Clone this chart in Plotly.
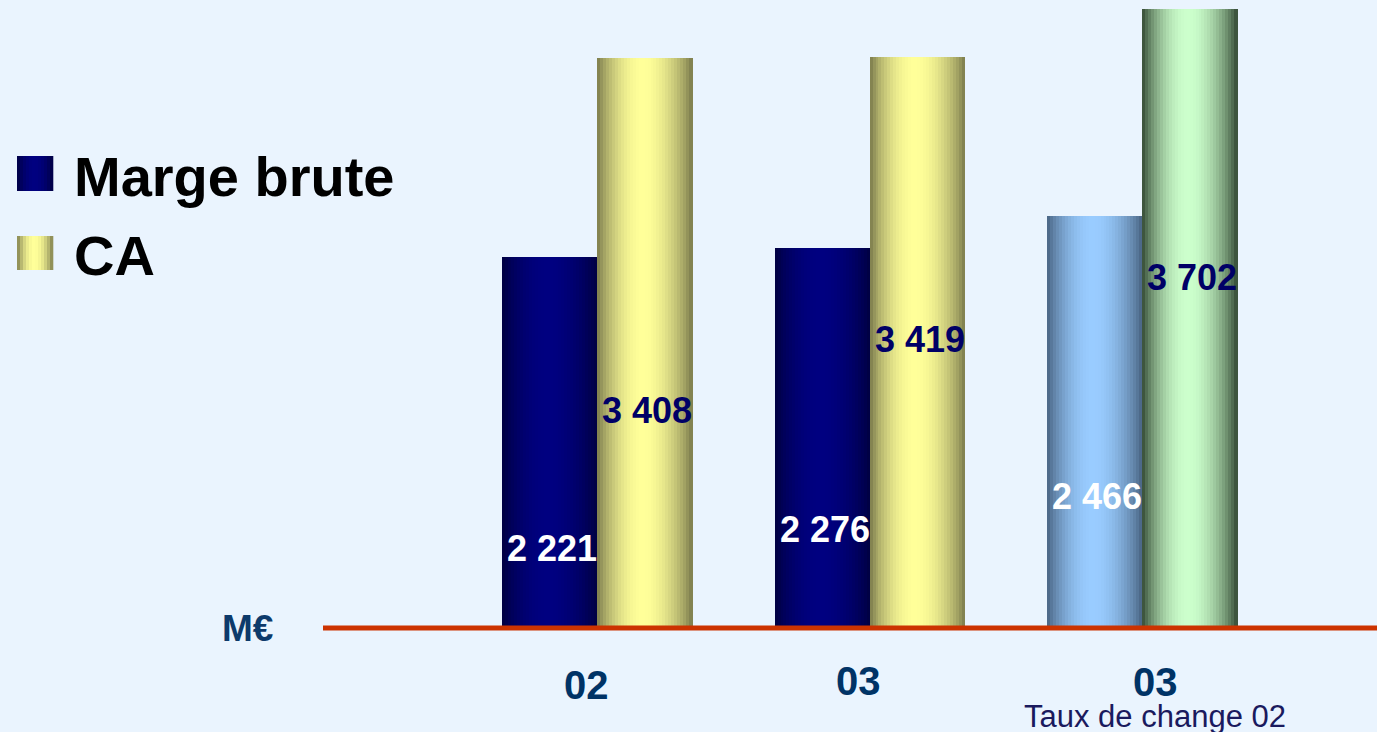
import plotly.graph_objects as go
import math

# ---------------- data ----------------
categories = ["02", "03", "03"]
category_notes = ["", "", "Taux de change 02"]
series_names = ["Marge brute", "CA"]
marge_brute = [2221, 2276, 2466]
ca = [3408, 3419, 3702]
unit_label = "M€"

# ---------------- styling ----------------
BG = "#EAF4FE"
# (edge colour, centre colour) per bar
marge_colors = [("#00003F", "#000080"), ("#00003F", "#000080"), ("#46607E", "#99CCFF")]
ca_colors = [("#77774A", "#FFFF99"), ("#77774A", "#FFFF99"), ("#2F4530", "#CCFFCC")]
marge_label_color = "#FFFFFF"
ca_label_color = "#000066"
# label positions (value units, where the text sits inside each bar)
marge_label_y = [479, 592, 790]
ca_label_y = [1299, 1729, 2100]

N = 32          # slices per bar to imitate cylindrical shading
BW = 0.3486     # bar width in axis units
PEAK = 0.48


def hex2rgb(h):
    h = h.lstrip("#")
    return tuple(int(h[i:i + 2], 16) for i in (0, 2, 4))


def shade(edge, centre, t, peak=PEAK):
    if t < peak:
        f = math.sin(math.pi / 2 * t / peak)
    else:
        f = math.sin(math.pi / 2 * (1 - t) / (1 - peak))
    f = max(0.0, min(1.0, f)) ** 0.8
    e, c = hex2rgb(edge), hex2rgb(centre)
    r = [round(e[k] + (c[k] - e[k]) * f) for k in range(3)]
    return "rgb({},{},{})".format(*r)


xpos = list(range(len(categories)))
fig = go.Figure()
sw = BW / N


def add_series(values, colors, start):
    for i in range(N):
        t = (i + 0.5) / N
        fig.add_trace(go.Bar(
            x=xpos, y=values,
            width=sw * 1.15, offset=start + i * sw,
            marker=dict(color=[shade(e, c, t) for e, c in colors], line=dict(width=0)),
            showlegend=False, hoverinfo="skip",
        ))


add_series(marge_brute, marge_colors, -BW)
add_series(ca, ca_colors, 0.0)

annotations = []


def fmt(v):
    return f"{v:,}".replace(",", " ")


for x, v, ly in zip(xpos, marge_brute, marge_label_y):
    annotations.append(dict(x=x - BW / 2 + 0.01, y=ly, xref="x", yref="y", text=f"<b>{fmt(v)}</b>", showarrow=False,
                            font=dict(family="Liberation Sans", size=36, color=marge_label_color),
                            xanchor="center", yanchor="middle"))
for x, v, ly in zip(xpos, ca, ca_label_y):
    annotations.append(dict(x=x + BW / 2 + 0.01, y=ly, xref="x", yref="y", text=f"<b>{fmt(v)}</b>", showarrow=False,
                            font=dict(family="Liberation Sans", size=36, color=ca_label_color),
                            xanchor="center", yanchor="middle"))

# category labels
cat_offsets_x = [-0.037, -0.039, 0.048]
cat_y = [-341, -314, -322]
for x, c, dx, cy, note in zip(xpos, categories, cat_offsets_x, cat_y, category_notes):
    annotations.append(dict(x=x + dx, y=cy, xref="x", yref="y", text=f"<b>{c}</b>", showarrow=False,
                            font=dict(family="Liberation Sans", size=40, color="#003366"),
                            xanchor="center", yanchor="middle", borderpad=0))
    if note:
        annotations.append(dict(x=x + dx, y=-528, xref="x", yref="y", text=note, showarrow=False,
                                font=dict(family="Liberation Sans", size=31, color="#1A1A5E"),
                                xanchor="center", yanchor="middle", borderpad=0))

annotations.append(dict(x=247 / 1377, y=0, xref="paper", yref="y", text=f"<b>{unit_label}</b>", showarrow=False,
                        font=dict(family="Liberation Sans", size=37, color="#0D3A6B"),
                        xanchor="center", yanchor="middle"))

# legend (manual, large)
shapes = []
leg_rows = [(156, 191, marge_colors[0]), (236, 270, ca_colors[0])]
for (top, bot, (e, c)), name in zip(leg_rows, series_names):
    x0, x1 = 17, 53
    n = 12
    for i in range(n):
        t = (i + 0.5) / n
        shapes.append(dict(type="rect", xref="paper", yref="paper",
                           x0=(x0 + (x1 - x0) * i / n) / 1377, x1=(x0 + (x1 - x0) * (i + 1.1) / n) / 1377,
                           y0=1 - bot / 732, y1=1 - top / 732,
                           fillcolor=shade(e, c, t), line=dict(width=0), layer="above"))
    annotations.append(dict(x=72 / 1377, y=1 - ((top + bot) / 2 + 3) / 732, xref="paper", yref="paper",
                            text=f"<b>{name}</b>", showarrow=False,
                            font=dict(family="Liberation Sans", size=56, color="#000000"),
                            xanchor="left", yanchor="middle"))

# baseline
shapes.append(dict(type="line", xref="paper", yref="y", x0=323 / 1377, x1=1, y0=0, y1=0,
                   line=dict(color="#CC3300", width=5), layer="above"))

fig.update_layout(
    width=1377, height=732,
    margin=dict(l=0, r=0, t=0, b=0),
    paper_bgcolor=BG, plot_bgcolor=BG,
    barmode="overlay", bargap=0,
    xaxis=dict(range=[-2.191, 2.862], visible=False, fixedrange=True),
    yaxis=dict(range=[-622, 3758], visible=False, fixedrange=True),
    annotations=annotations, shapes=shapes,
    showlegend=False,
)

fig.write_html("out.html")
